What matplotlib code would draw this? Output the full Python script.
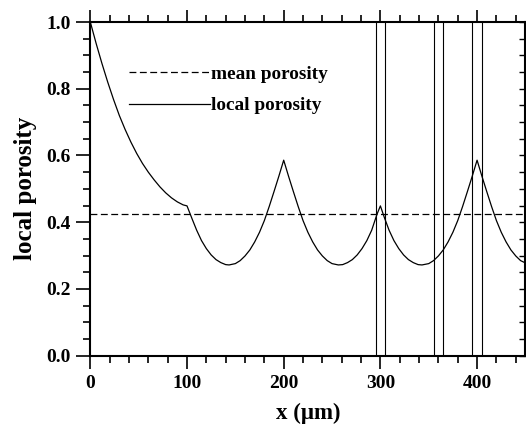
import matplotlib
matplotlib.use("Agg")
import matplotlib.pyplot as plt
from matplotlib.ticker import MultipleLocator
from matplotlib.lines import Line2D

# ---- data ----
x_um = [0, 6, 12, 18, 24, 30, 36, 42, 48, 54, 60, 66, 72, 78, 84, 90, 96, 100,
        105, 110, 115, 120, 125, 130, 135, 140, 143.5,
        150, 155, 160, 165, 170, 175, 180, 185, 190, 195, 200,
        205, 210, 215, 220, 225, 230, 235, 240, 245, 250, 256.5,
        261, 266, 271, 276, 281, 286, 291, 296.5, 300,
        304, 309, 314, 319, 324, 329, 334, 339, 343,
        350, 355, 360, 365, 370, 375, 380, 385, 390, 395, 400,
        405, 410, 415, 420, 425, 430, 435, 440, 445, 450]
local_porosity = [1.0, 0.936, 0.876, 0.820, 0.768, 0.720, 0.678, 0.640, 0.606, 0.576, 0.550, 0.527,
                  0.506, 0.488, 0.473, 0.461, 0.452, 0.449,
                  0.412, 0.376, 0.345, 0.321, 0.302, 0.288, 0.279, 0.273, 0.272,
                  0.276, 0.285, 0.299, 0.317, 0.341, 0.370, 0.405, 0.447, 0.492, 0.538, 0.586,
                  0.538, 0.492, 0.447, 0.405, 0.370, 0.341, 0.317, 0.299, 0.285, 0.276, 0.272,
                  0.273, 0.279, 0.288, 0.302, 0.321, 0.345, 0.376, 0.424, 0.449,
                  0.415, 0.376, 0.345, 0.321, 0.302, 0.288, 0.279, 0.273, 0.272,
                  0.276, 0.285, 0.299, 0.317, 0.341, 0.370, 0.405, 0.447, 0.492, 0.538, 0.586,
                  0.538, 0.492, 0.447, 0.405, 0.370, 0.341, 0.317, 0.299, 0.285, 0.278]
mean_porosity = 0.425
vertical_lines = [295, 305, 355, 365, 395, 405]

x_ticks = [0, 100, 200, 300, 400]
y_ticks = [0.0, 0.2, 0.4, 0.6, 0.8, 1.0]
y_tick_labels = ["0.0", "0.2", "0.4", "0.6", "0.8", "1.0"]

plt.rcParams['font.family'] = ['Liberation Serif', 'DejaVu Serif']
plt.rcParams['font.weight'] = 'bold'

fig = plt.figure(figsize=(5.26, 4.26), dpi=100)
ax = fig.add_axes([0.1717, 0.165, 0.8272, 0.7833])

ax.plot(x_um, local_porosity, color='black', lw=0.9)
ax.axhline(mean_porosity, color='black', lw=0.9, dashes=(5.5, 2.8))
for xv in vertical_lines:
    ax.axvline(xv, color='black', lw=0.8)

ax.set_xlim(0, 450)
ax.set_ylim(0, 1.0)

ax.set_xticks(x_ticks)
ax.set_xticklabels([str(t) for t in x_ticks])
ax.xaxis.set_minor_locator(MultipleLocator(20))
ax.set_yticks(y_ticks)
ax.set_yticklabels(y_tick_labels)
ax.yaxis.set_minor_locator(MultipleLocator(0.05))

ax.tick_params(axis='x', which='both', direction='out', top=True, bottom=True,
               labelsize=14, width=1.2, pad=5)
ax.tick_params(axis='x', which='major', length=9)
ax.tick_params(axis='x', which='minor', length=5)
ax.tick_params(axis='y', which='both', direction='out', left=True, right=False,
               labelsize=14, width=1.2, pad=4)
ax.tick_params(axis='y', which='major', length=10)
ax.tick_params(axis='y', which='minor', length=5)

sec = ax.secondary_yaxis('right')
sec.set_yticks(y_ticks)
sec.yaxis.set_minor_locator(MultipleLocator(0.05))
sec.tick_params(which='both', direction='in', length=4, width=1.0, labelright=False)

for s in ax.spines.values():
    s.set_linewidth(1.5)

ax.set_xlabel("x (μm)", fontsize=16.5, fontweight='bold', labelpad=8)
ax.set_ylabel("local porosity", fontsize=18, fontweight='bold', labelpad=7)

handles = [Line2D([], [], color='black', lw=0.9, dashes=(5.5, 2.8)),
           Line2D([], [], color='black', lw=0.9)]
ax.legend(handles, ["mean porosity", "local porosity"], loc='upper left',
          bbox_to_anchor=(0.089, 0.870), frameon=False,
          handlelength=4.2, handletextpad=0.05, borderpad=0, borderaxespad=0,
          labelspacing=0.72, prop={'weight': 'bold', 'size': 13.9})

fig.savefig("out.png", dpi=100)
